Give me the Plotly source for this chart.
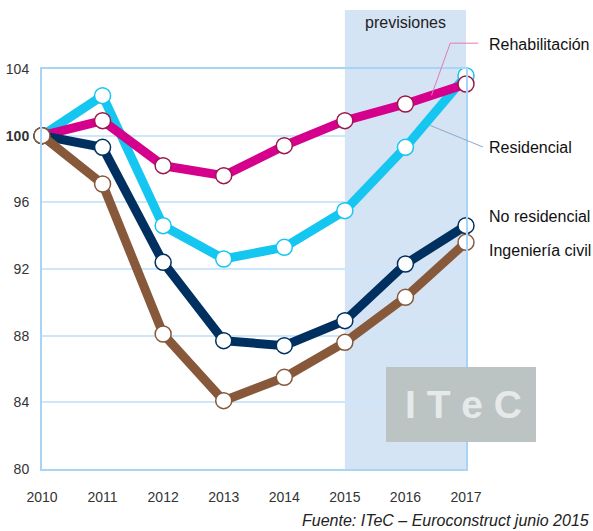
import plotly.graph_objects as go

years = [2010, 2011, 2012, 2013, 2014, 2015, 2016, 2017]

residencial = [100, 102.4, 94.6, 92.6, 93.3, 95.5, 99.3, 103.6]
rehabilitacion = [100, 100.9, 98.2, 97.6, 99.4, 100.9, 101.9, 103.1]
no_residencial = [100, 99.3, 92.4, 87.7, 87.4, 88.9, 92.3, 94.6]
ing_civil = [100, 97.1, 88.1, 84.1, 85.5, 87.6, 90.3, 93.6]

y_ticks = [80, 84, 88, 92, 96, 100, 104]
y_ticktext = ["80", "84", "88", "92", "96", "<b>100</b>", "104"]

font = "Arial, Liberation Sans, sans-serif"

series = [
    ("Residencial", residencial, "#14C6F0", "#14C6F0"),
    ("Rehabilitación", rehabilitacion, "#D5008C", "#9A1848"),
    ("No residencial", no_residencial, "#00305F", "#00305F"),
    ("Ingeniería civil", ing_civil, "#87593A", "#87593A"),
]


def px(xv):
    # data x -> paper x
    return (xv - 2010) / 7


def py(yv):
    # data y -> paper y
    return (yv - 80) / 24


fig = go.Figure()

for name, vals, col, edge in series:
    fig.add_trace(go.Scatter(
        x=years, y=vals, name=name, mode="lines+markers",
        line=dict(color=col, width=9),
        marker=dict(size=16, color="white", line=dict(color=edge, width=1.5)),
        cliponaxis=False,
    ))

# forecast band
fig.add_shape(type="rect", xref="x", yref="paper", x0=2015, x1=2017, y0=0, y1=1.1475,
              fillcolor="#D5E4F4", line=dict(width=0), layer="below")
fig.add_annotation(x=2016, xref="x", y=(469 - 22) / 400, yref="paper", text="previsiones",
                   showarrow=False, font=dict(size=16, color="#222"),
                   xanchor="center", yanchor="middle")

# leader lines for labels (paper coords so they are not clipped)
t = 0.43
rx = 2016 + t
ry = rehabilitacion[6] + t * (rehabilitacion[7] - rehabilitacion[6])
fig.add_shape(type="path", xref="paper", yref="paper",
              path=f"M {px(rx)},{py(ry)} L {px(2016.74)},{py(105.55)} L {px(2017.2)},{py(105.55)}",
              line=dict(color="#E07AB8", width=1))
sx = 2016.41
sy = residencial[6] + sx % 1 * (residencial[7] - residencial[6]) - 0.45
fig.add_shape(type="line", xref="paper", yref="paper",
              x0=px(sx), y0=py(sy), x1=px(2017.28), y1=py(99.32),
              line=dict(color="#8FA9C6", width=1))

labels = [("Rehabilitación", 45), ("Residencial", 147), ("No residencial", 216),
          ("Ingeniería civil", 250)]
for txt, ypix in labels:
    fig.add_annotation(x=(487 - 42) / 424, xref="paper", y=(469 - ypix) / 400, yref="paper",
                       text=txt, showarrow=False, xanchor="left", yanchor="middle",
                       font=dict(size=16, color="#111"))

# ITeC logo box
fig.add_shape(type="rect", xref="paper", yref="paper",
              x0=(386 - 42) / 424, x1=(536 - 42) / 424,
              y0=(469 - 442) / 400, y1=(469 - 367) / 400,
              fillcolor="#BCC3C3", line=dict(width=0), layer="above")
fig.add_annotation(x=(463 - 42) / 424, xref="paper", y=(469 - 404) / 400, yref="paper",
                   text="<b>I T e C</b>", showarrow=False, xanchor="center", yanchor="middle",
                   font=dict(size=39, color="#E6E9E9"))

fig.add_annotation(xref="paper", xanchor="right", x=(591 - 42) / 424,
                   y=(469 - 520) / 400, yref="paper", yanchor="middle",
                   text="<i>Fuente: ITeC – Euroconstruct junio 2015</i>", showarrow=False,
                   font=dict(size=16, color="#222"))

fig.update_layout(
    width=593, height=531,
    margin=dict(l=42, r=127, t=69, b=62),
    plot_bgcolor="white", paper_bgcolor="white",
    showlegend=False,
    font=dict(family=font, size=14, color="#333"),
)
fig.update_xaxes(range=[2010, 2017], tickvals=years, showgrid=False, zeroline=False,
                 showline=True, linecolor="#A8D4F5", linewidth=2, mirror=True,
                 ticks="", ticklabelstandoff=14, automargin=False,
                 tickfont=dict(size=14, color="#333"))
fig.update_yaxes(range=[80, 104], tickvals=y_ticks, ticktext=y_ticktext,
                 showgrid=True, gridcolor="#CDE6FA", gridwidth=2, zeroline=False,
                 showline=True, linecolor="#A8D4F5", linewidth=2, mirror=True,
                 ticks="", ticklabelstandoff=8, automargin=False,
                 tickfont=dict(size=14, color="#333"))

# drop the default page margin so the figure sits at the window's corner
fig.write_html("out.html", config={"displayModeBar": False},
               post_script="document.body.style.margin='0';")
